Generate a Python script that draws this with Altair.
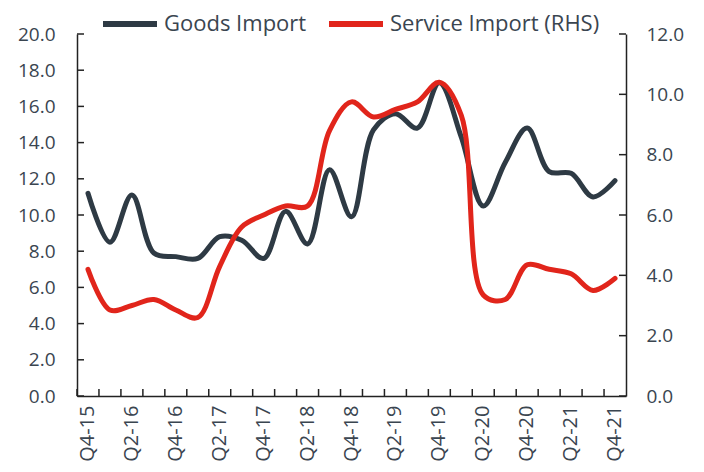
import altair as alt
import pandas as pd

quarters = ["Q4-15", "Q1-16", "Q2-16", "Q3-16", "Q4-16", "Q1-17", "Q2-17", "Q3-17",
            "Q4-17", "Q1-18", "Q2-18", "Q3-18", "Q4-18", "Q1-19", "Q2-19", "Q3-19",
            "Q4-19", "Q1-20", "Q2-20", "Q3-20", "Q4-20", "Q1-21", "Q2-21", "Q3-21", "Q4-21"]
goods = [11.2, 8.5, 11.1, 7.9, 7.7, 7.6, 8.8, 8.6, 7.6, 10.2, 8.4, 12.5, 9.9,
         14.7, 15.6, 14.8, 17.3, 14.3, 10.5, 12.9, 14.8, 12.4, 12.3, 11.0, 11.9]
service = [4.2, 2.85, 3.0, 3.2, 2.85, 2.6, 4.3, 5.6, 6.0, 6.3, 6.3, 8.8, 9.75,
           9.25, 9.5, 9.75, 10.4, 9.3, 3.35, 3.2, 4.35, 4.2, 4.05, 3.5, 3.9]
series_names = ["Goods Import", "Service Import (RHS)"]
left_ticks = [0, 2, 4, 6, 8, 10, 12, 14, 16, 18, 20]
right_ticks = [0, 2, 4, 6, 8, 10, 12]
x_labels = quarters[0::2]

DARK = "#2E3A44"
RED = "#E1251B"
TEXT = "#3A4550"
AXC = "#222222"
FONT = "Open Sans"
W, H = 549, 362

df_g = pd.DataFrame({"q": quarters, "v": goods, "series": series_names[0]})
df_s = pd.DataFrame({"q": quarters, "v": service, "series": series_names[1]})
df_q = pd.DataFrame({"q": quarters})
df_lt = pd.DataFrame({"v": left_ticks})
df_rt = pd.DataFrame({"v": right_ticks})

xscale = alt.Scale(type="band", domain=quarters, paddingInner=0, paddingOuter=0)
color = alt.Color("series:N",
                  scale=alt.Scale(domain=series_names, range=[DARK, RED]),
                  legend=alt.Legend(title=None, orient="none", direction="horizontal",
                                    legendX=23, legendY=-40,
                                    symbolType="stroke", symbolSize=2916,
                                    symbolStrokeWidth=6, labelFontSize=22,
                                    labelColor=TEXT, labelFont=FONT, labelLimit=400,
                                    labelOffset=4, columnPadding=10, padding=0))

xaxis = alt.Axis(values=x_labels, labelAngle=-90, labelFontSize=20, labelColor=TEXT,
                 labelFont=FONT, ticks=False, domainColor=AXC, domainWidth=1.5,
                 labelPadding=9, title=None, grid=False)
laxis = alt.Axis(values=left_ticks, format=".1f", ticks=False, labelFontSize=19,
                 labelColor=TEXT, labelFont=FONT, domainColor=AXC,
                 domainWidth=1.5, labelPadding=22, title=None, grid=False)
raxis = alt.Axis(values=right_ticks, format=".1f", ticks=False, orient="right",
                 labelFontSize=19, labelColor=TEXT, labelFont=FONT,
                 domainColor=AXC, domainWidth=1.5, labelPadding=20,
                 title=None, grid=False)

lscale = alt.Scale(domain=[0, 20], nice=False)
rscale = alt.Scale(domain=[0, 12], nice=False)

goods_line = alt.Chart(df_g).mark_line(interpolate="catmull-rom", strokeWidth=5,
                                       strokeCap="round").encode(
    x=alt.X("q:N", scale=xscale, axis=xaxis, bandPosition=0.5),
    y=alt.Y("v:Q", scale=lscale, axis=laxis),
    color=color,
)

left_tick_rules = alt.Chart(df_lt).mark_rule(color=AXC, strokeWidth=1.5).encode(
    y=alt.Y("v:Q", scale=lscale, axis=laxis),
    x=alt.value(0), x2=alt.value(7),
)

x_tick_rules = alt.Chart(df_q).mark_rule(color=AXC, strokeWidth=1.5).encode(
    x=alt.X("q:N", scale=xscale, axis=xaxis, bandPosition=0),
    y=alt.value(H - 7), y2=alt.value(H),
)

service_line = alt.Chart(df_s).mark_line(interpolate="catmull-rom", strokeWidth=5,
                                         strokeCap="round").encode(
    x=alt.X("q:N", scale=xscale, axis=xaxis, bandPosition=0.5),
    y=alt.Y("v:Q", scale=rscale, axis=raxis),
    color=color,
)

right_tick_rules = alt.Chart(df_rt).mark_rule(color=AXC, strokeWidth=1.5).encode(
    y=alt.Y("v:Q", scale=rscale, axis=raxis),
    x=alt.value(W - 7), x2=alt.value(W),
)

left = alt.layer(goods_line, left_tick_rules, x_tick_rules)
right = alt.layer(service_line, right_tick_rules)

chart = alt.layer(left, right).resolve_scale(y="independent").properties(
    width=W, height=H,
    autosize=alt.AutoSizeParams(type="none"),
    padding={"left": 69, "top": 26, "right": 60, "bottom": 68},
).configure(background="white").configure_view(stroke=None)

chart.save("out.html", embed_options={"renderer": "svg", "actions": False})
